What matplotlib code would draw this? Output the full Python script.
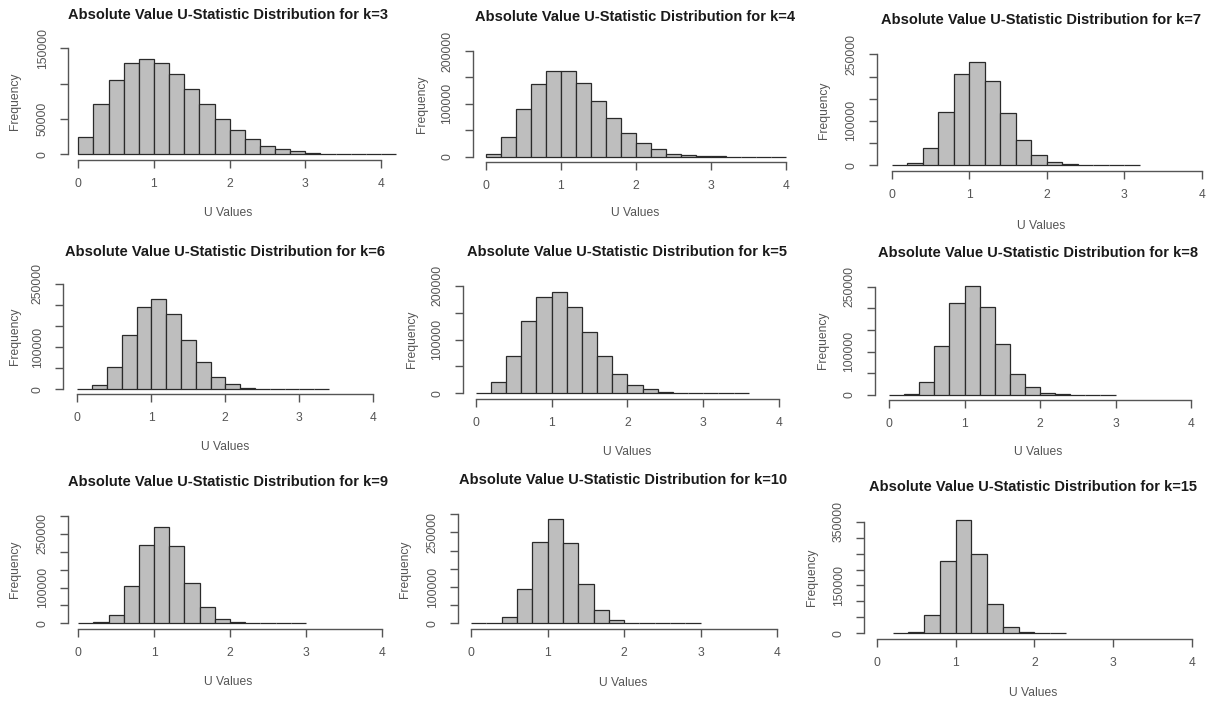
import numpy as np
import matplotlib
matplotlib.use("Agg")
import matplotlib.pyplot as plt

plt.rcParams['font.family'] = ['Liberation Sans', 'DejaVu Sans']

# histogram counts per k, bins of width 0.2
ks = [3, 4, 7, 6, 5, 8, 9, 10, 15]
bin_width = 0.2
bin_start = [0, 0, 0, 0, 0, 0, 0, 0, 0.2]

counts_k3 = [24000, 70800, 105000, 128800, 135000, 129000, 114000, 93000, 70800, 50500,
             34000, 21700, 12300, 7500, 4700, 2400, 1000, 500, 250, 120, 60]
counts_k4 = [5000, 37900, 89600, 137500, 162800, 162800, 140000, 106000, 73200, 45400,
             26500, 13900, 5700, 2500, 1200, 500, 220, 100, 40, 15]
counts_k7 = [500, 6000, 39800, 121000, 206000, 233000, 190000, 118000, 56400, 22600,
             8300, 3000, 900, 300, 100, 40]
counts_k6 = [500, 11000, 53800, 128000, 195000, 213600, 178000, 117000, 64000, 29300,
             11900, 3200, 1000, 350, 120, 50, 20]
counts_k5 = [1000, 20400, 69300, 134000, 179000, 188000, 160000, 114000, 68700, 36500,
             16100, 7400, 2500, 900, 300, 120, 50, 20]
counts_k8 = [300, 2000, 28500, 112000, 213000, 251500, 202000, 117000, 48600, 18500,
             3900, 900, 250, 80, 30]
counts_k9 = [300, 2800, 24000, 104000, 219000, 270000, 216000, 114000, 44700, 13000,
             2800, 700, 200, 60, 20]
counts_k10 = [50, 500, 16500, 94500, 224000, 287000, 220000, 108000, 35800, 8300,
              1800, 400, 100, 30, 10]
counts_k15 = [500, 4200, 58500, 228000, 355000, 250000, 91000, 19900, 4200, 1000, 300]

all_counts = [counts_k3, counts_k4, counts_k7, counts_k6, counts_k5, counts_k8,
              counts_k9, counts_k10, counts_k15]

x_ticks = [0, 1, 2, 3, 4]
y_ticks_top = [150000, 200000, 250000, 250000, 200000, 250000, 300000, 300000, 350000]
y_labels_shown = [[0, 50000, 150000], [0, 100000, 200000], [0, 100000, 250000],
                  [0, 100000, 250000], [0, 100000, 200000], [0, 100000, 250000],
                  [0, 100000, 250000], [0, 100000, 250000], [0, 150000, 350000]]

# pixel layout of each panel in the 1224x705 image (top-down coords)
# x0, x4: pixel of x=0 and x=4 ; y0, yt: pixel of y=0 and top tick
# ax_x: y-axis line x ; ax_y: x-axis line y ; title / xlabel / ylabel positions
layout = [
    dict(x0=78.3, x4=381.0, y0=154.3, yt=48.3, ax_x=68.3, ax_y=160.0, tx=228, ty=15, xly=213, ylx=15),
    dict(x0=486.0, x4=785.7, y0=156.7, yt=51.0, ax_x=472.7, ax_y=162.3, tx=635, ty=17, xly=213, ylx=422),
    dict(x0=891.7, x4=1201.7, y0=165.3, yt=54.3, ax_x=876.7, ax_y=170.7, tx=1041, ty=20, xly=226, ylx=824),
    dict(x0=77.3, x4=373.3, y0=389.3, yt=284.0, ax_x=63.3, ax_y=394.3, tx=225, ty=252, xly=447, ylx=15),
    dict(x0=475.7, x4=779.0, y0=393.3, yt=285.7, ax_x=462.7, ax_y=399.0, tx=627, ty=252, xly=452, ylx=412),
    dict(x0=889.0, x4=1191.0, y0=394.7, yt=286.7, ax_x=875.0, ax_y=400.0, tx=1038, ty=253, xly=452, ylx=823),
    dict(x0=78.3, x4=381.7, y0=623.3, yt=516.0, ax_x=68.3, ax_y=629.0, tx=228, ty=482, xly=682, ylx=15),
    dict(x0=471.0, x4=777.3, y0=623.3, yt=514.3, ax_x=458.3, ax_y=629.0, tx=623, ty=480, xly=683, ylx=405),
    dict(x0=877.0, x4=1191.7, y0=633.3, yt=521.7, ax_x=864.3, ax_y=639.0, tx=1033, ty=487, xly=693, ylx=812),
]

W, H = 1224, 705
fig = plt.figure(figsize=(W / 100, H / 100), dpi=100)

axis_col = '#555555'
text_col = '#555555'

for k, counts, start, ytop, shown, L in zip(ks, all_counts, bin_start, y_ticks_top,
                                             y_labels_shown, layout):
    sx = (L['x4'] - L['x0']) / 4.0
    sy = (L['y0'] - L['yt']) / ytop
    right_px = L['x4'] + 25
    top_px = L['yt'] - 12
    ax = fig.add_axes([L['ax_x'] / W, 1 - L['ax_y'] / H,
                       (right_px - L['ax_x']) / W, (L['ax_y'] - top_px) / H])
    ax.set_xlim((L['ax_x'] - L['x0']) / sx, (right_px - L['x0']) / sx)
    ax.set_ylim(-(L['ax_y'] - L['y0']) / sy, (L['y0'] - top_px) / sy)
    ax.patch.set_alpha(0)

    lefts = start + bin_width * np.arange(len(counts))
    ax.bar(lefts, counts, width=bin_width, align='edge', color='#bebebe',
           edgecolor='#2a2a2a', linewidth=0.9)

    for s in ['top', 'right']:
        ax.spines[s].set_visible(False)
    ax.spines['left'].set_bounds(0, ytop)
    ax.spines['bottom'].set_bounds(0, 4)
    for s in ['left', 'bottom']:
        ax.spines[s].set_color(axis_col)
        ax.spines[s].set_linewidth(1.0)

    ax.set_xticks(x_ticks)
    ax.set_xticklabels([str(v) for v in x_ticks])
    yt = list(range(0, ytop + 1, 50000))
    ax.set_yticks(yt)
    ax.set_yticklabels([str(v) if v in shown else '' for v in yt],
                       rotation=90, va='center')
    ax.tick_params(axis='both', length=6, width=1.0, color=axis_col,
                   labelcolor=text_col, labelsize=8.7)
    ax.tick_params(axis='x', pad=7)
    ax.tick_params(axis='y', pad=8)

    fig.text(L['tx'] / W, 1 - L['ty'] / H,
             'Absolute Value U-Statistic Distribution for k=%d' % k,
             ha='center', va='center', fontsize=10.5, fontweight='bold', color='#1a1a1a')
    fig.text(L['tx'] / W, 1 - L['xly'] / H, 'U Values', ha='center', va='center',
             fontsize=8.7, color=text_col)
    fig.text(L['ylx'] / W, 1 - (L['y0'] + L['yt']) / 2 / H, 'Frequency', ha='center',
             va='center', rotation=90, fontsize=8.7, color=text_col)

fig.savefig('out.png', dpi=100)
